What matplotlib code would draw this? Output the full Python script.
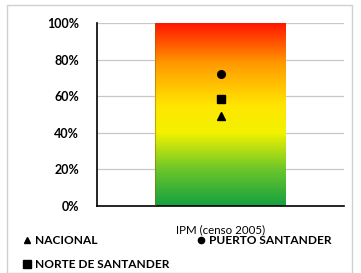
import numpy as np
import matplotlib
matplotlib.use("Agg")
import matplotlib.pyplot as plt
from matplotlib.colors import LinearSegmentedColormap
from matplotlib.patches import Rectangle
from matplotlib.lines import Line2D

categories = ["IPM (censo 2005)"]
bar_values = [1.0]
series_names = ["NACIONAL", "PUERTO SANTANDER", "NORTE DE SANTANDER"]
series_values = [0.49, 0.72, 0.585]
series_markers = ["^", "o", "s"]
yticks = [0, 0.2, 0.4, 0.6, 0.8, 1.0]
ytick_labels = ["0%", "20%", "40%", "60%", "80%", "100%"]

plt.rcParams['font.family'] = ['Lato', 'DejaVu Sans']

fig = plt.figure(figsize=(3.61, 2.73), dpi=100)
fig.patch.set_facecolor("white")
# outer border
fig.patches.append(Rectangle((7/361, 0), (352-7)/361, 1 - 5/273, transform=fig.transFigure,
                             fill=False, edgecolor="#d0d0d0", linewidth=1.0))

ax = fig.add_axes([97/361, 1 - 206/273, (344-97)/361, (206-23)/273])
x = np.arange(len(categories))
bars = ax.bar(x, bar_values, width=0.53, color="none", edgecolor="none", zorder=2)

cmap = LinearSegmentedColormap.from_list("ipm", [
    (0.0, "#15a040"),
    (0.2, "#6cc62a"),
    (0.4, "#f2f200"),
    (0.55, "#ffe600"),
    (0.78, "#ff9a00"),
    (1.0, "#ff1500"),
])
grad = np.linspace(0, 1, 256).reshape(-1, 1)
for b in bars:
    x0, w, h = b.get_x(), b.get_width(), b.get_height()
    im = ax.imshow(grad, cmap=cmap, origin="lower", aspect="auto",
                   extent=[x0, x0 + w, 0, h], zorder=2)
    im.set_clip_path(b)
    ax.plot([x0, x0], [0, h], color="#8a6a00", lw=0.8, alpha=0.5, zorder=3)

for name, val, m in zip(series_names, series_values, series_markers):
    ax.plot(x, [val], marker=m, color="black", markersize=5.5, linestyle="none", zorder=4)

ax.set_xlim(-0.5, 0.5)
ax.set_ylim(0, 1.0)
ax.set_yticks(yticks)
ax.set_yticklabels(ytick_labels, fontsize=9, fontweight="bold")
ax.set_xticks(x)
ax.set_xticklabels(categories, fontsize=8.3)
ax.tick_params(axis="both", length=0)
ax.tick_params(axis="y", pad=13)
ax.tick_params(axis="x", pad=13)
ax.yaxis.grid(True, color="#c8c8c8", linewidth=0.9)
ax.set_axisbelow(True)
for s in ["top", "right"]:
    ax.spines[s].set_visible(False)
ax.spines["left"].set_linewidth(1.2)
ax.spines["bottom"].set_linewidth(1.2)
ax.patch.set_alpha(0)

# legend entries
leg_pos = [(27, 240), (201, 240), (27, 264)]
for (px, py), name, m in zip(leg_pos, series_names, series_markers):
    fig.add_artist(Line2D([px/361], [1 - py/273], marker=m, color="black",
                          markersize=4.5 if m != "s" else 5.5, linestyle="none",
                          transform=fig.transFigure))
    fig.text((px + 8)/361, 1 - py/273, name, fontsize=8.6, fontweight="bold",
             va="center", ha="left")

fig.savefig("out.png", dpi=100)
